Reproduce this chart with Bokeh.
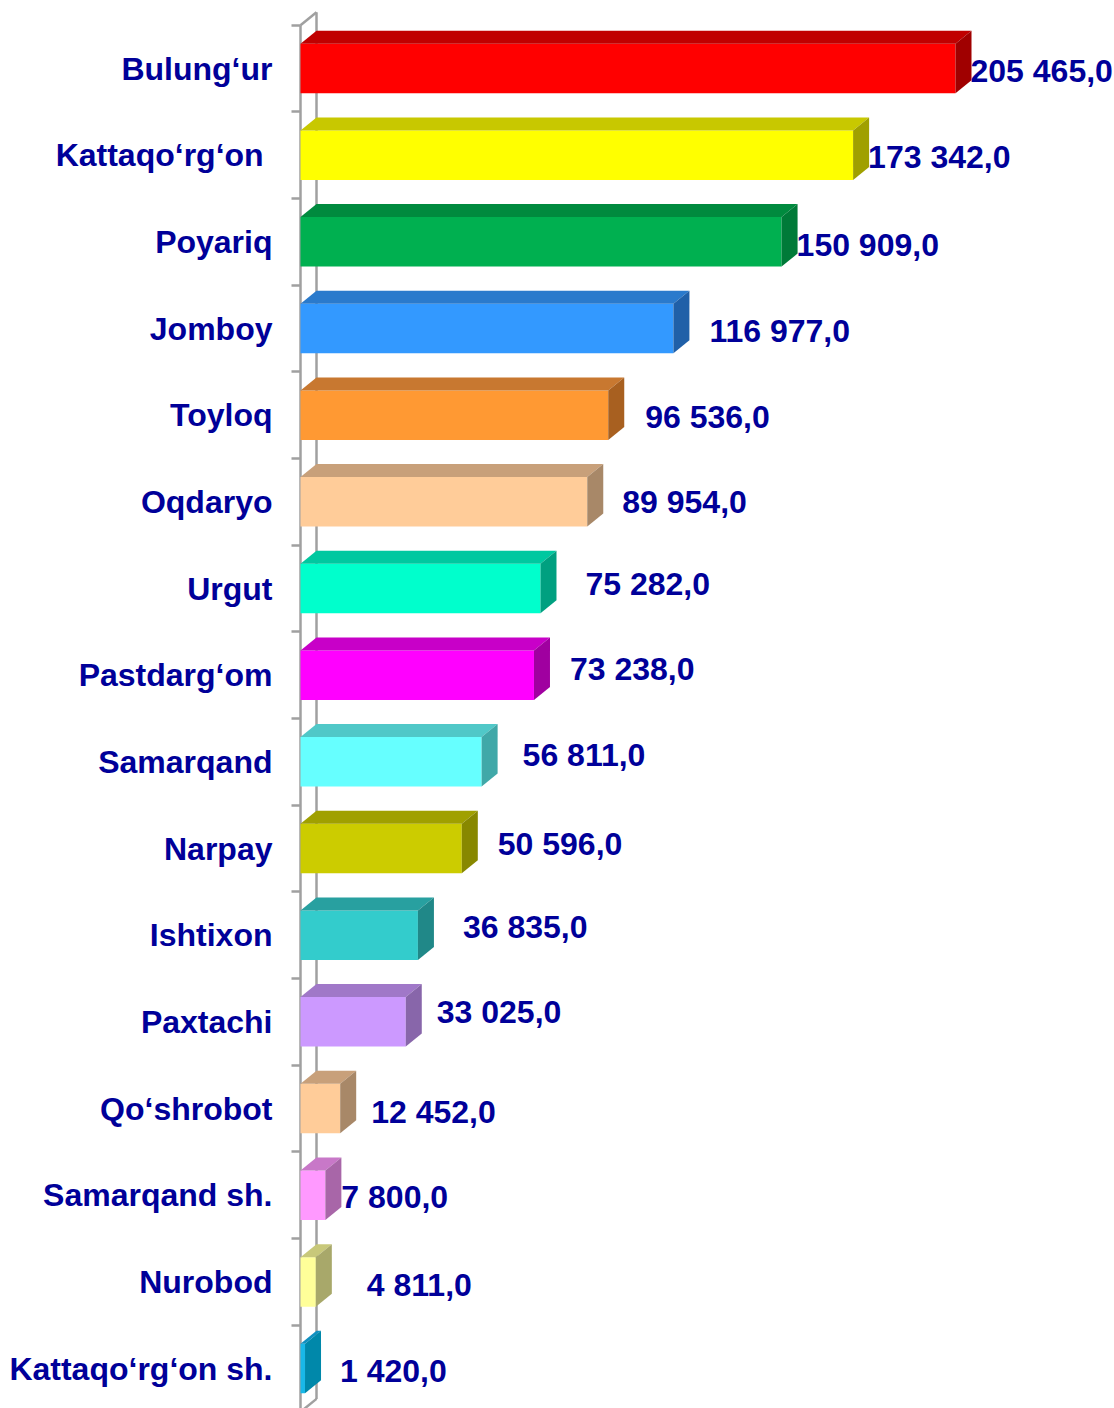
from bokeh.plotting import figure
from bokeh.models import Range1d, FixedTicker, ColumnDataSource
from bokeh.embed import file_html
from bokeh.resources import INLINE
from bokeh.core.properties import value

# ---------------- data ----------------
districts = ["Bulung‘ur", "Kattaqo‘rg‘on\u00a0", "Poyariq", "Jomboy", "Toyloq", "Oqdaryo",
             "Urgut", "Pastdarg‘om", "Samarqand", "Narpay", "Ishtixon", "Paxtachi",
             "Qo‘shrobot", "Samarqand sh.", "Nurobod", "Kattaqo‘rg‘on sh."]
values = [205465.0, 173342.0, 150909.0, 116977.0, 96536.0, 89954.0,
          75282.0, 73238.0, 56811.0, 50596.0, 36835.0, 33025.0,
          12452.0, 7800.0, 4811.0, 1420.0]

# ---------------- styles ----------------
front_colors = ["#FF0000", "#FFFF00", "#00B050", "#3399FF", "#FF9933", "#FFCC99",
                "#00FFCC", "#FF00FF", "#66FFFF", "#CCCC00", "#33CCCC", "#CC99FF",
                "#FFCC99", "#FF99FF", "#FFFF99", "#19B8E8"]
top_colors = ["#C00000", "#C8C800", "#008A3E", "#2A7ACC", "#C87830", "#C8A07A",
              "#00C8A0", "#C800C8", "#50C8C8", "#A0A000", "#28A0A0", "#A078C8",
              "#C8A07A", "#C878C8", "#C8C87A", "#1090C0"]
side_colors = ["#A00000", "#A0A000", "#007A38", "#2060A8", "#A86020", "#A88868",
               "#00A080", "#A000A0", "#40A8A8", "#888800", "#208888", "#8866AA",
               "#A88868", "#A866A8", "#A8A86A", "#0088AA"]
# label nudges in pixels (gap after bar side, vertical shift)
label_dx = [-1, -1, -1, 20, 21, 19, 29, 20, 25, 20, 29, 15, 15, 0, 35, 19]
label_dy = [2, 2, 3, 2, 2, 0, -5, -6, -7, -5, -8, -10, 3, 2, 3, 2]

W, H = 1114, 1408
AXIS_PX = 300          # pixel position of the value axis
FRAME_LEFT = 297       # frame starts a little left of the axis so the wall line is not clipped
PITCH = 86.67          # pixels per category
FIRST_CENTER = 68      # pixel y of first category centre
PX_PER_UNIT = 655.0 / 205465.0
DEPTH_X_PX, DEPTH_Y_PX = 16, 13
BAR_H = 49.5 / PITCH

dx = DEPTH_X_PX / PX_PER_UNIT
dy = DEPTH_Y_PX / PITCH

n = len(values)
ys = list(range(n))

x_start = -(AXIS_PX - FRAME_LEFT) / PX_PER_UNIT
x_end = (W - AXIS_PX) / PX_PER_UNIT
y_top = -FIRST_CENTER / PITCH
y_bottom = (H - FIRST_CENTER) / PITCH

p = figure(width=W, height=H, output_backend="svg", toolbar_location=None,
           x_range=Range1d(x_start, x_end), y_range=Range1d(y_bottom, y_top),
           min_border=0, min_border_left=FRAME_LEFT, outline_line_color=None,
           x_axis_location=None)
p.grid.visible = False
p.background_fill_color = "white"
p.border_fill_color = "white"

# y axis: labels at centres, short ticks at boundaries
yaxis = p.yaxis[0]
yaxis.ticker = FixedTicker(ticks=ys, minor_ticks=[i - 0.5 for i in range(n + 1)])
yaxis.major_label_overrides = {i: d for i, d in enumerate(districts)}
yaxis.axis_line_color = None
yaxis.major_tick_out = 0
yaxis.major_tick_in = 0
yaxis.minor_tick_out = 6
yaxis.minor_tick_in = 3
yaxis.minor_tick_line_color = "#A0A0A0"
yaxis.minor_tick_line_width = 2.5
yaxis.major_label_standoff = 19
yaxis.major_label_text_font = "Liberation Sans"
yaxis.major_label_text_font_style = "bold"
yaxis.major_label_text_font_size = "32px"
yaxis.major_label_text_color = "#000099"

# 3D wall lines
b0, b1 = -0.5, n - 0.5
wall_col = "#A0A0A0"
p.segment(x0=[0, dx, 0, 0], y0=[b0, b0 - dy, b0, b1],
          x1=[0, dx, dx, dx], y1=[b1 + 1, b1 - dy, b0 - dy, b1 - dy],
          line_color=wall_col, line_width=2.5)

# bars
tops = [y - BAR_H / 2 for y in ys]
bots = [y + BAR_H / 2 for y in ys]
p.quad(left=[0] * n, right=values, top=tops, bottom=bots,
       fill_color=front_colors, line_color=None)
p.patches(xs=[[0, dx, v + dx, v] for v in values],
          ys=[[t, t - dy, t - dy, t] for t in tops],
          fill_color=top_colors, line_color=None)
p.patches(xs=[[v, v + dx, v + dx, v] for v in values],
          ys=[[t, t - dy, b - dy, b] for t, b in zip(tops, bots)],
          fill_color=side_colors, line_color=None)

labels = [f"{v:,.1f}".replace(",", " ").replace(".", ",") for v in values]
src = ColumnDataSource(dict(x=[v + dx for v in values], y=ys, t=labels,
                            xo=label_dx, yo=label_dy))
p.text(x="x", y="y", text="t", x_offset="xo", y_offset="yo", source=src,
       text_font=value("Liberation Sans"), text_font_style="bold",
       text_font_size="32px", text_color="#000099",
       text_align="left", text_baseline="middle")

open("out.html", "w").write(file_html(p, INLINE))
